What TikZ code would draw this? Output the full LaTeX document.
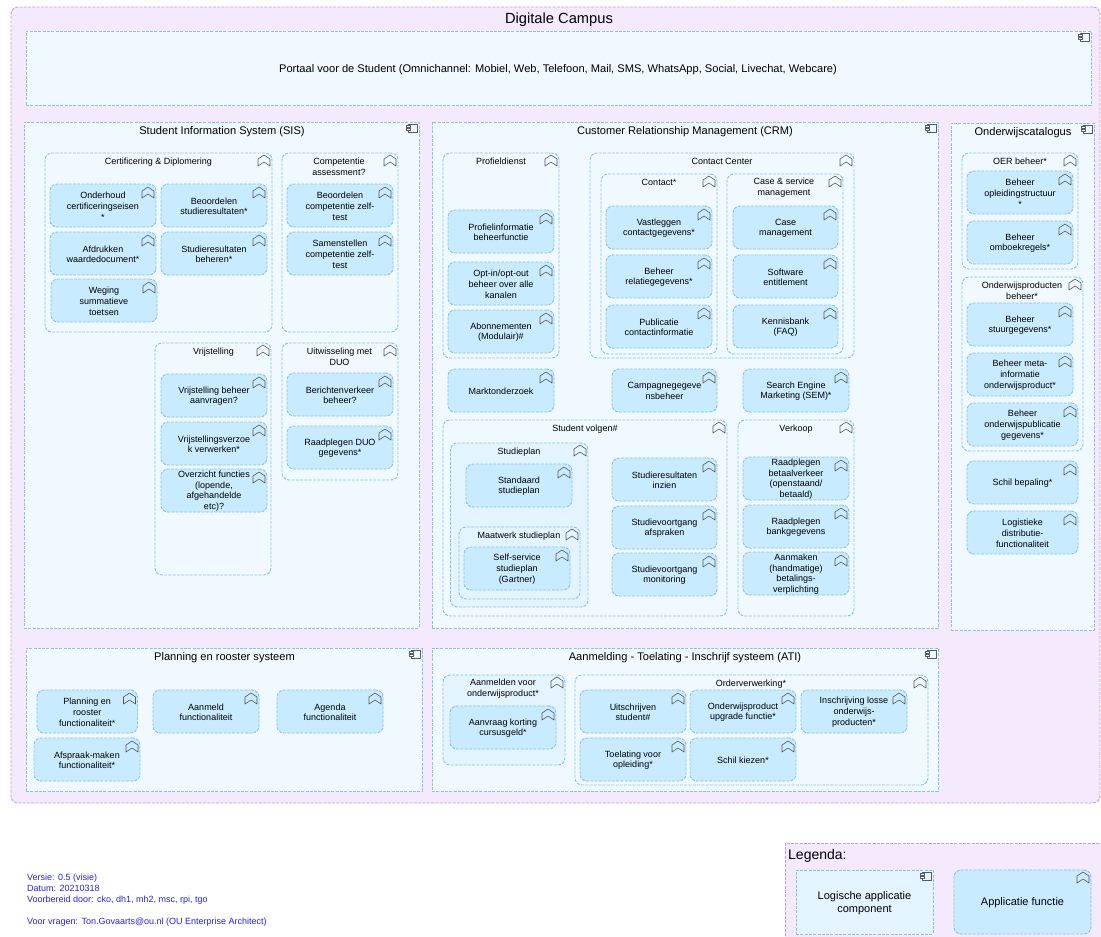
\documentclass[tikz,border=0pt]{standalone}
\usepackage{fontspec}
\setmainfont{Liberation Sans}
\usetikzlibrary{calc}
\definecolor{outerfill}{HTML}{F5E9FE}
\definecolor{outerline}{HTML}{BFA0E0}
\definecolor{compfill}{HTML}{F0F9FF}
\definecolor{deepfill}{HTML}{E3F4FF}
\definecolor{fnfill}{HTML}{C9EBFF}
\definecolor{blueline}{HTML}{86C4EC}
\definecolor{iconline}{HTML}{5A5A5A}
\definecolor{infoblue}{HTML}{2222DD}
\tikzset{
  x=1pt,y=-1pt,
  base/.style={draw=blueline,line width=0.95pt,dash pattern=on 3pt off 1.3pt,inner sep=0pt,outer sep=0pt,anchor=north west},
  compbox/.style={base,fill=compfill},
  ctrbox/.style={base,fill=compfill,rounded corners=7pt},
  fnbox/.style={base,fill=fnfill,rounded corners=7pt},
  outerbox/.style={draw=outerline,fill=outerfill,line width=0.95pt,dash pattern=on 3pt off 1.3pt,inner sep=0pt,outer sep=0pt,anchor=north west},
  fntext/.style={align=center,inner sep=0pt,font=\fontsize{9}{10.7}\selectfont},
  smalltitle/.style={align=center,inner sep=0pt,font=\fontsize{9}{10.7}\selectfont},
  comptitle/.style={align=center,inner sep=0pt,font=\fontsize{11.1}{13}\selectfont},
  legendtext/.style={align=center,inner sep=0pt,font=\fontsize{11}{13}\selectfont},
  infotext/.style={align=left,inner sep=0pt,anchor=north west,text=infoblue,font=\fontsize{9}{10.9}\selectfont},
  iconstroke/.style={draw=iconline,line width=0.6pt,line join=round},
  fnicon/.pic={\draw[iconstroke] (0,0) -- (6,4) -- (6,11) -- (0,7) -- (-6,11) -- (-6,4) -- cycle;},
  compicon/.pic={
    \draw[iconstroke] (-11,0) rectangle (-2,8);
    \draw[iconstroke,fill=compfill] (-13,1.5) rectangle (-9,3.5);
    \draw[iconstroke,fill=compfill] (-13,4.5) rectangle (-9,6.5);
  },
}
% name, x1, y1, x2, y2, text
\newcommand{\fnnode}[6]{%
  \node[fnbox,minimum width={(#4-#2)*1pt},minimum height={(#5-#3)*1pt}] (#1) at (#2,#3) {};
  \node[fntext] (#1-text) at ($(#1.center)+(0,0.7)$) {#6};
  \pic at ($(#1.north east)+(-8,3)$) {fnicon};
}
% [fill], name, x1, y1, x2, y2, title, title cx, title cy
\newcommand{\container}[9][compfill]{%
  \node[ctrbox,fill=#1,minimum width={(#5-#3)*1pt},minimum height={(#6-#4)*1pt}] (#2) at (#3,#4) {};
  \node[smalltitle] (#2-title) at (#8,#9) {#7};
  \pic at ($(#2.north east)+(-8,2)$) {fnicon};
}
% name, x1, y1, x2, y2, title, title cx, title cy
\newcommand{\component}[8]{%
  \node[compbox,minimum width={(#4-#2)*1pt},minimum height={(#5-#3)*1pt}] (#1) at (#2,#3) {};
  \node[comptitle] (#1-title) at (#7,#8) {#6};
  \pic at ($(#1.north east)+(0,2)$) {compicon};
}
\begin{document}
\begin{tikzpicture}
\useasboundingbox (0,0) rectangle (1101,937);
\clip (0,0) rectangle (1101,937);
% outer
\node[outerbox,rounded corners=7pt,minimum width=1089pt,minimum height=796pt] (campus) at (11,7) {};
\node[inner sep=0pt,font=\fontsize{14.7}{17}\selectfont] (campus-title) at (559,19.5) {Digitale Campus};
% portal
\component{portal}{26}{31}{1091}{105}{Portaal voor de Student (Omnichannel: Mobiel, Web, Telefoon, Mail, SMS, WhatsApp, Social, Livechat, Webcare)}{558}{69.5}
% SIS
\component{sis}{24}{122}{419}{628}{Student Information System (SIS)}{222}{131.5}
\container{cert}{45}{153}{272}{332}{Certificering \& Diplomering}{158.5}{161.7}
\fnnode{f1}{50}{184}{156}{227}{Onderhoud\\certificeringseisen\\*}
\fnnode{f2}{161}{184}{267}{227}{Beoordelen\\studieresultaten*}
\fnnode{f3}{50}{232}{156}{275}{Afdrukken\\waardedocument*}
\fnnode{f4}{161}{232}{267}{275}{Studieresultaten\\beheren*}
\fnnode{f5}{51}{279}{157}{322}{Weging\\summatieve\\toetsen}
\container{comp}{282}{153}{398}{332}{Competentie\\assessment?}{339}{167}
\fnnode{f6}{287}{184}{393}{227}{Beoordelen\\competentie zelf-\\test}
\fnnode{f7}{287}{232}{393}{275}{Samenstellen\\competentie zelf-\\test}
\container{vrij}{155}{343}{271}{575}{Vrijstelling}{213.5}{351.7}
\fnnode{f8}{161}{374}{267}{417}{Vrijstelling beheer\\aanvragen?}
\fnnode{f9}{161}{422}{267}{465}{Vrijstellingsverzoe\\k verwerken*}
\fnnode{f10}{161}{469}{267}{512}{Overzicht functies\\(lopende,\\afgehandelde\\etc)?}
\container{uitw}{282}{343}{398}{480}{Uitwisseling met\\DUO}{339.5}{356.5}
\fnnode{f11}{287}{373}{393}{416}{Berichtenverkeer\\beheer?}
\fnnode{f12}{287}{426}{393}{469}{Raadplegen DUO\\gegevens*}
% CRM
\component{crm}{432}{122}{938}{628}{Customer Relationship Management (CRM)}{685}{131.5}
\container{prof}{443}{153}{559}{358}{Profieldienst}{501}{161.7}
\fnnode{g1}{448}{210}{554}{253}{Profielinformatie\\beheerfunctie}
\fnnode{g2}{448}{262}{554}{305}{Opt-in/opt-out\\beheer over alle\\kanalen}
\fnnode{g3}{448}{310}{554}{353}{Abonnementen\\(Modulair)\#}
\container{cc}{590}{153}{854}{358}{Contact Center}{722}{161.7}
\container{contact}{601}{174}{717}{354}{Contact*}{659}{182.7}
\fnnode{g4}{606}{206}{712}{249}{Vastleggen\\contactgegevens*}
\fnnode{g5}{606}{255}{712}{298}{Beheer\\relatiegegevens*}
\fnnode{g6}{606}{305}{712}{348}{Publicatie\\contactinformatie}
\container{case}{727}{174}{843}{354}{Case \& service\\management}{784}{188}
\fnnode{g7}{733}{206}{838}{249}{Case\\management}
\fnnode{g8}{733}{255}{838}{298}{Software\\entitlement}
\fnnode{g9}{733}{305}{838}{348}{Kennisbank\\(FAQ)}
\fnnode{g10}{448}{369}{554}{412}{Marktonderzoek}
\fnnode{g11}{612}{369}{717}{412}{Campagnegegeve\\nsbeheer}
\fnnode{g12}{743}{369}{849}{412}{Search Engine\\Marketing (SEM)*}
\container{volgen}{443}{420}{727}{616}{Student volgen\#}{585}{428.7}
\container[deepfill]{plan}{450.5}{443}{588}{607}{Studieplan}{519}{451.7}
\fnnode{g13}{466}{464}{572}{507}{Standaard\\studieplan}
\container[deepfill]{maat}{459}{527}{580}{599}{Maatwerk studieplan}{519}{535.7}
\fnnode{g14}{464}{547}{570}{590}{Self-service\\studieplan\\(Gartner)}
\fnnode{g15}{612}{458}{717}{501}{Studieresultaten\\inzien}
\fnnode{g16}{612}{506}{717}{549}{Studievoortgang\\afspraken}
\fnnode{g17}{612}{553}{717}{596}{Studievoortgang\\monitoring}
\container{verkoop}{738}{420}{854}{616}{Verkoop}{796}{428.7}
\fnnode{g18}{743}{457}{849}{500}{Raadplegen\\betaalverkeer\\(openstaand/\\betaald)}
\fnnode{g19}{743}{505}{849}{548}{Raadplegen\\bankgegevens}
\fnnode{g20}{743}{552}{849}{595}{Aanmaken\\(handmatige)\\betalings-\\verplichting}
% Catalogus
\component{cat}{951}{123}{1094}{630}{Onderwijscatalogus}{1023}{132.5}
\container{oer}{962}{153}{1078}{269}{OER beheer*}{1020}{161.7}
\fnnode{h1}{967}{171}{1073}{214}{Beheer\\opleidingstructuur\\*}
\fnnode{h2}{967}{221}{1073}{264}{Beheer\\omboekregels*}
\container{prod}{962}{277}{1083}{451}{Onderwijsproducten\\beheer*}{1022}{290.5}
\fnnode{h3}{967}{303}{1073}{346}{Beheer\\stuurgegevens*}
\fnnode{h4}{967}{353}{1073}{396}{Beheer meta-\\informatie\\onderwijsproduct*}
\fnnode{h5}{967}{403}{1078}{446}{Beheer\\onderwijspublicatie\\gegevens*}
\fnnode{h6}{967}{461}{1078}{504}{Schil bepaling*}
\fnnode{h7}{967}{511}{1078}{554}{Logistieke\\distributie-\\functionaliteit}
% Planning
\component{plan2}{26}{648}{422}{791}{Planning en rooster systeem}{224.5}{658}
\fnnode{p1}{37}{690}{137.5}{733}{Planning en\\rooster\\functionaliteit*}
\fnnode{p2}{153}{690}{259}{733}{Aanmeld\\functionaliteit}
\fnnode{p3}{277}{690}{383}{733}{Agenda\\functionaliteit}
\fnnode{p4}{34}{738}{140}{781}{Afspraak-maken\\functionaliteit*}
% ATI
\component{ati}{432}{648}{938}{791}{Aanmelding - Toelating - Inschrijf systeem (ATI)}{685}{658}
\container[deepfill]{aanm}{443}{675}{565}{765}{Aanmelden voor\\onderwijsproduct*}{503}{689}
\fnnode{a1}{450}{706}{556}{749}{Aanvraag korting\\cursusgeld*}
\container{order}{575}{675}{928}{785}{Orderverwerking*}{751}{683.7}
\fnnode{a2}{580}{690}{686}{733}{Uitschrijven\\student\#}
\fnnode{a3}{690}{690}{796}{733}{Onderwijsproduct\\upgrade functie*}
\fnnode{a4}{801}{690}{907}{733}{Inschrijving losse\\onderwijs-\\producten*}
\fnnode{a5}{580}{738}{686}{781}{Toelating voor\\opleiding*}
\fnnode{a6}{690}{738}{796}{781}{Schil kiezen*}
% info
\node[infotext] (info) at (27,874) {Versie: 0.5 (visie)\\Datum: 20210318\\Voorbereid door: cko, dh1, mh2, msc, rpi, tgo\\\mbox{}\\Voor vragen: Ton.Govaarts@ou.nl (OU Enterprise Architect)};
% legend
\node[outerbox,minimum width=330pt,minimum height=110pt] (legend) at (785,843) {};
\node[inner sep=0pt,anchor=west,font=\fontsize{14}{17}\selectfont] (legend-title) at (788,856) {Legenda:};
\node[compbox,fill=deepfill,minimum width=137pt,minimum height=64pt] (lg1) at (796,870) {};
\node[legendtext] (lg1-text) at ($(lg1.center)+(0,0.8)$) {Logische applicatie\\component};
\pic at ($(lg1.north east)+(0,2)$) {compicon};
\node[fnbox,minimum width=137pt,minimum height=64pt] (lg2) at (954,870) {};
\node[legendtext] (lg2-text) at ($(lg2.center)+(0,0.8)$) {Applicatie functie};
\pic at ($(lg2.north east)+(-8,2)$) {fnicon};
\end{tikzpicture}
\end{document}
